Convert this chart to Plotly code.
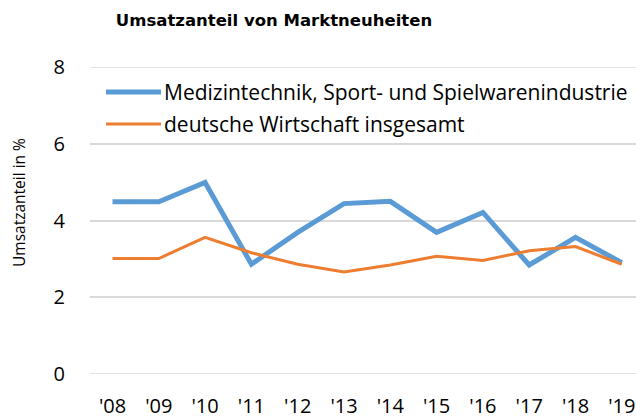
import plotly.graph_objects as go

years = ["'08", "'09", "'10", "'11", "'12", "'13", "'14", "'15", "'16", "'17", "'18", "'19"]
medizin = [4.49, 4.49, 4.99, 2.86, 3.69, 4.44, 4.50, 3.69, 4.21, 2.84, 3.56, 2.90]
gesamt = [3.01, 3.01, 3.56, 3.16, 2.86, 2.66, 2.84, 3.07, 2.96, 3.21, 3.32, 2.86]
names = ["Medizintechnik, Sport- und Spielwarenindustrie", "deutsche Wirtschaft insgesamt"]
colors = ["#5B9BD5", "#ED7D31"]
widths = [5, 3]
y_ticks = [0, 2, 4, 6, 8]

FONT = "Open Sans"
FS_TICK = 20
FS_LEG = 21
FS_YT = 15.5

# plot area in pixels
L, R, T, B = 90, 636, 67, 374
W, H = R - L, B - T

fig = go.Figure()
for vals, nm, c, w in zip([medizin, gesamt], names, colors, widths):
    fig.add_trace(go.Scatter(x=years, y=vals, mode="lines", name=nm,
                             line=dict(color=c, width=w), showlegend=False))

# grid lines at the axis ends (plotly omits them at the range edges)
for yv in [y_ticks[0], y_ticks[-1]]:
    fig.add_shape(type="line", xref="paper", yref="y", x0=0, x1=1, y0=yv, y1=yv,
                  line=dict(color="#D9D9D9", width=1.5), layer="below")

# manual legend
leg_y = [92, 124]
for nm, c, w, yp in zip(names, colors, widths, leg_y):
    py = (B - yp) / H
    fig.add_shape(type="line", xref="paper", yref="paper",
                  x0=(106 - L) / W, x1=(161 - L) / W, y0=py, y1=py,
                  line=dict(color=c, width=w))
    fig.add_annotation(text=nm, xref="paper", yref="paper", x=(162 - L) / W, y=py,
                       xanchor="left", yanchor="middle", showarrow=False,
                       font=dict(family=FONT, size=FS_LEG, color="#000000"))

step = 46.3
x0 = -(112.5 - L) / step
fig.update_layout(
    width=636, height=418,
    margin=dict(l=L, r=636 - R, t=T, b=418 - B, pad=0),
    paper_bgcolor="white", plot_bgcolor="white",
    font=dict(family=FONT, size=FS_TICK, color="#000000"),
    title=dict(text="<b>Umsatzanteil von Marktneuheiten</b>",
               font=dict(family="DejaVu Sans", size=16.5, color="#000000"),
               x=274 / 636, xanchor="center", y=1 - 20 / 418, yanchor="middle",
               xref="container", yref="container"),
    xaxis=dict(type="category", range=[x0, x0 + W / step], showgrid=False,
               showline=False, zeroline=False, ticks="outside", ticklen=14,
               tickcolor="rgba(0,0,0,0)", tickfont=dict(size=FS_TICK)),
    yaxis=dict(range=[0, 8], tickvals=y_ticks, showgrid=True, gridcolor="#D9D9D9",
               gridwidth=1.5, zeroline=False, showline=False, ticks="outside",
               ticklen=20, tickcolor="rgba(0,0,0,0)", tickfont=dict(size=FS_TICK)),
    showlegend=False,
)
fig.add_annotation(text="Umsatzanteil in %", textangle=-90, xref="paper", yref="paper",
                   x=(19 - L) / W, y=(B - 203) / H, showarrow=False,
                   font=dict(family=FONT, size=FS_YT),
                   xanchor="center", yanchor="middle")

fig.write_html("out.html", config={"displayModeBar": False},
               post_script="document.body.style.margin='0';document.body.style.overflow='hidden';")
